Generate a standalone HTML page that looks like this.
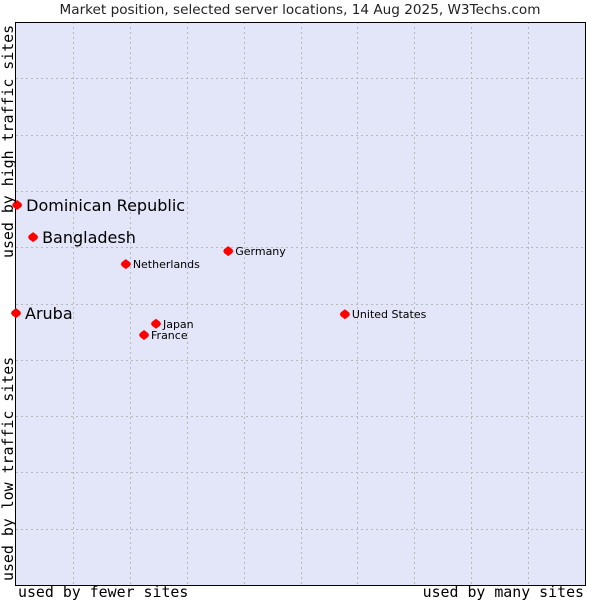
<!DOCTYPE html>
<html><head><meta charset="utf-8"><style>
body{margin:0;background:#fff;width:600px;height:600px;overflow:hidden}
svg{display:block}
</style></head><body>
<svg id="chart" width="600" height="600" xmlns="http://www.w3.org/2000/svg">
<text x="300" y="14" text-anchor="middle" font-family="DejaVu Sans, sans-serif" font-size="13.6" fill="#222">Market position, selected server locations, 14 Aug 2025, W3Techs.com</text>
<rect x="16" y="22" width="569" height="563" fill="#e3e5f8"/>
<g id="grid"></g>
<rect x="15.5" y="22.5" width="570" height="563" fill="none" stroke="#000" stroke-width="1"/>
<g id="points"></g>
<text x="18" y="597" font-family="DejaVu Sans Mono, monospace" font-size="14.9" fill="#000">used by fewer sites</text>
<text x="584" y="597" text-anchor="end" font-family="DejaVu Sans Mono, monospace" font-size="14.9" fill="#000">used by many sites</text>
<text transform="translate(13,258) rotate(-90)" font-family="DejaVu Sans Mono, monospace" font-size="14.9" fill="#000">used by high traffic sites</text>
<text transform="translate(13,581) rotate(-90)" font-family="DejaVu Sans Mono, monospace" font-size="14.9" fill="#000">used by low traffic sites</text>
</svg>
<script>
const countries=["Dominican Republic","Bangladesh","Germany","Netherlands","Aruba","Japan","France","United States"];
const xValues=[0.2,3.0,37.3,19.3,0,24.6,22.5,57.8];
const yValues=[67.5,61.8,59.3,57.0,48.3,46.4,44.4,48.1];
const highlighted=[true,true,false,false,true,false,false,false];
const NS="http://www.w3.org/2000/svg";
const X0=16,X1=585,Y0=22,Y1=585;
function sx(v){return X0+v/100*(X1-X0);}
function sy(v){return Y1-v/100*(Y1-Y0);}
const grid=document.getElementById('grid');
for(let i=1;i<10;i++){
 const gx=Math.round(sx(i*10))+0.5;
 const l=document.createElementNS(NS,'line');
 l.setAttribute('x1',gx);l.setAttribute('x2',gx);l.setAttribute('y1',Y0);l.setAttribute('y2',Y1);
 l.setAttribute('stroke','#b8b8b8');l.setAttribute('stroke-dasharray','2,3');
 
 
 grid.appendChild(l);
 const gy=Math.round(sy(i*10))+0.5;
 const h=document.createElementNS(NS,'line');
 h.setAttribute('x1',X0);h.setAttribute('x2',X1);h.setAttribute('y1',gy);h.setAttribute('y2',gy);
 h.setAttribute('stroke','#b8b8b8');h.setAttribute('stroke-dasharray','2,3');
 
 
 grid.appendChild(h);
}
const pts=document.getElementById('points');
countries.forEach((c,i)=>{
 const px=sx(xValues[i]),py=sy(yValues[i]);
 const g=document.createElementNS(NS,'g');
 
 
 const d=document.createElementNS(NS,'polygon');
 d.setAttribute('points',`${px},${py-5} ${px+4},${py-2} ${px+5},${py} ${px+4},${py+2} ${px},${py+5} ${px-4},${py+2} ${px-5},${py} ${px-4},${py-2}`);
 d.setAttribute('fill','#ff0000');
 
 
 g.appendChild(d);
 const t=document.createElementNS(NS,'text');
 const big=highlighted[i];
 t.setAttribute('x',px+(big?9:7));
 t.setAttribute('y',py+(big?6:4));
 t.setAttribute('font-family','DejaVu Sans, sans-serif');
 t.setAttribute('font-size',big?16:11);
 t.setAttribute('fill','#000');
 t.textContent=c;
 
 
 g.appendChild(t);
 pts.appendChild(g);
});
</script>
</body></html>
